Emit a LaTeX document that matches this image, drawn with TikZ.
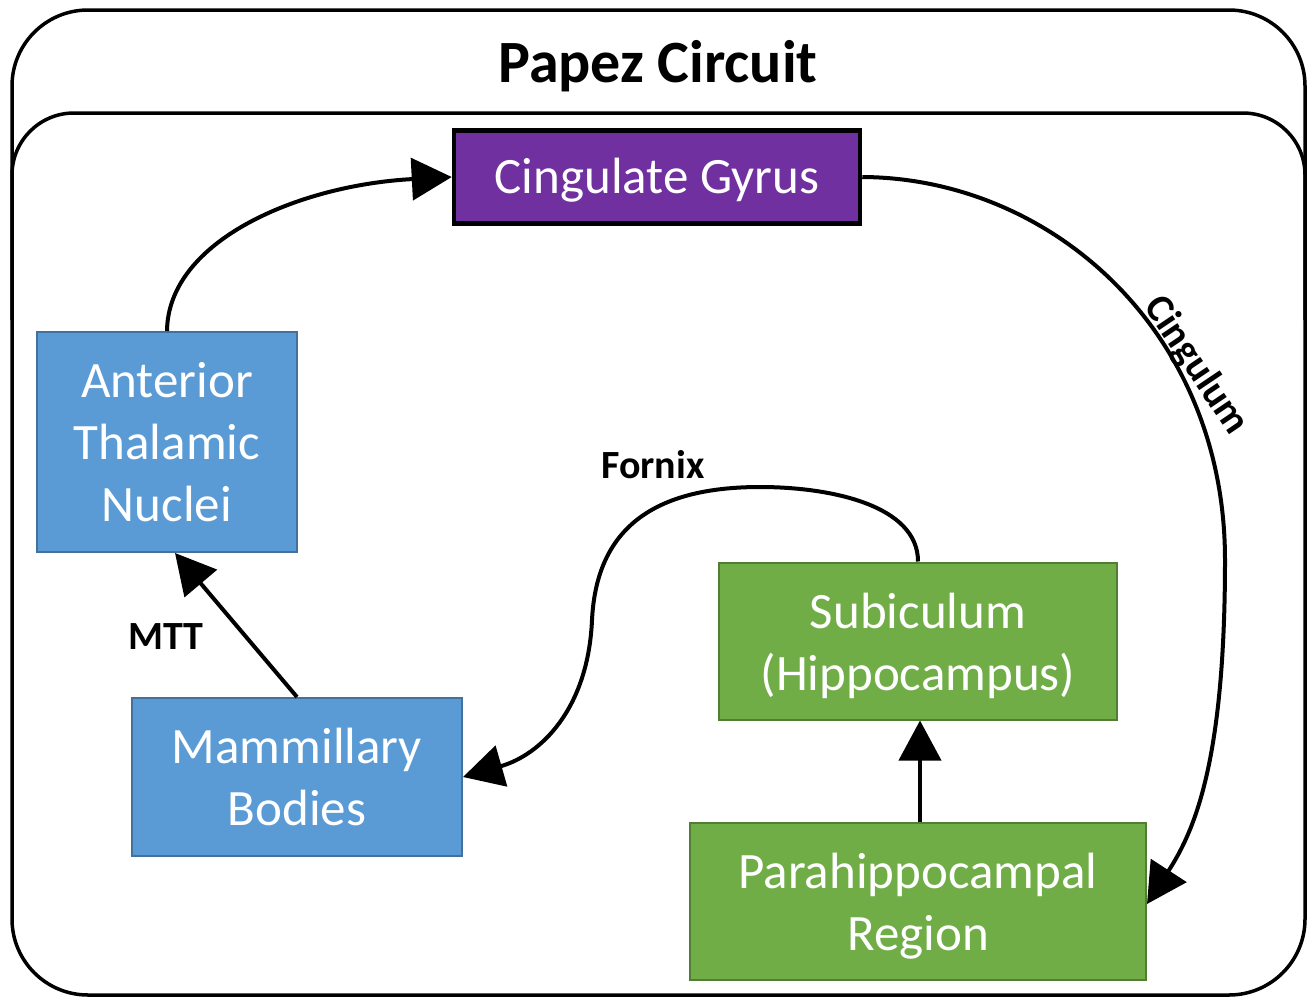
\documentclass[tikz,border=0pt]{standalone}
\usepackage{fontspec}
\setmainfont{Carlito}
\usetikzlibrary{arrows.meta}
\definecolor{bluef}{HTML}{5B9BD5}
\definecolor{blued}{HTML}{41719C}
\definecolor{greenf}{HTML}{70AD47}
\definecolor{greend}{HTML}{507E32}
\definecolor{purplef}{HTML}{7030A0}
\newcommand{\lowr}[2]{\raisebox{-#1}[\height][\depth]{#2}}
\tikzset{
  frame/.style={draw=black, line width=3.5pt},
  box/.style={text=white, align=center, inner sep=0pt,
    font=\fontsize{51}{62}\selectfont},
  bluebox/.style={box, fill=bluef, draw=blued, line width=2pt},
  greenbox/.style={box, fill=greenf, draw=greend, line width=2pt},
  purplebox/.style={box, fill=purplef, draw=black, line width=4.5pt},
  conn/.style={draw=black, line width=4pt, -{Triangle[length=40pt,width=42pt]}},
  lbl/.style={font=\bfseries\fontsize{40}{48}\selectfont, inner sep=0pt}
}
\begin{document}
\begin{tikzpicture}[x=1pt,y=-1pt]
\useasboundingbox (0,0) rectangle (1315,999);
% frames
\draw[frame, rounded corners=76pt] (12,10) rectangle (1305,995);
\draw[frame, rounded corners=62pt] (12,320) -- (12,113) -- (1305,113) -- (1305,320);
\node[font=\bfseries\fontsize{60}{70}\selectfont, inner sep=0pt] (title) at (658,66) {Papez Circuit};
% nodes
\node[purplebox, minimum width=406pt, minimum height=93pt] (cg) at (657,177) {\lowr{3pt}{Cingulate Gyrus}};
\node[bluebox, minimum width=260pt, minimum height=220pt] (atn) at (167,442) {Anterior\\Thalamic\\Nuclei};
\node[bluebox, minimum width=330pt, minimum height=158pt] (mb) at (297,777) {Mammillary\\Bodies};
\node[greenbox, minimum width=398pt, minimum height=157pt] (sub) at (918,641) {\lowr{5pt}{Subiculum}\\\lowr{5pt}{(Hippocampus)}};
\node[greenbox, minimum width=456pt, minimum height=157pt] (para) at (918,901) {\lowr{5pt}{Parahippocampal}\\\lowr{5pt}{Region}};
% connectors
\draw[conn] (atn.north) .. controls (168,240) and (300,185) .. (cg.west);
\coordinate (cgl) at (1225,560);
\draw[conn] (cg.east) .. controls (1050,178) and (1225,330) .. (cgl)
   .. controls (1225,760) and (1195,830) .. ([yshift=-3pt]para.east);
\coordinate (fx1) at (760,487);
\coordinate (fx2) at (592,620);
\draw[conn] (sub.north) .. controls (918,505) and (830,487) .. (fx1)
   .. controls (640,487) and (596,540) .. (fx2)
   .. controls (588,710) and (540,755) .. (mb.east);
\draw[conn] (mb.north) -- ([xshift=8pt]atn.south);
\draw[conn] ([xshift=2pt]para.north) -- ([xshift=2pt]sub.south);
% labels
\node[lbl] (fornix) at (653,465) {Fornix};
\node[lbl] (mtt) at (166,637) {MTT};
\node[lbl, rotate=-56] (cingulum) at (1196,366) {Cingulum};
\end{tikzpicture}
\end{document}
